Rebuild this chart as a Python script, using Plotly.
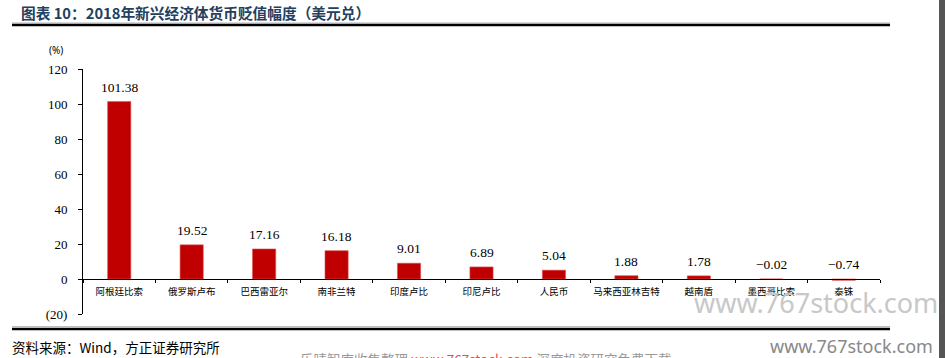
import plotly.graph_objects as go

categories = ["阿根廷比索", "俄罗斯卢布", "巴西雷亚尔", "南非兰特", "印度卢比", "印尼卢比",
              "人民币", "马来西亚林吉特", "越南盾", "墨西哥比索", "泰铢"]
values = [101.38, 19.52, 17.16, 16.18, 9.01, 6.89, 5.04, 1.88, 1.78, -0.02, -0.74]
value_labels = ["101.38", "19.52", "17.16", "16.18", "9.01", "6.89", "5.04", "1.88", "1.78", "−0.02", "−0.74"]
y_tickvals = [-20, 0, 20, 40, 60, 80, 100, 120]
y_ticktext = ["(20)", "0", "20", "40", "60", "80", "100", "120"]

W, H = 945, 358
# plot area in screen pixels
L, R, T, B = 83, 880, 68.7, 314.4

def px(x):
    return (x - L) / (R - L)

def py(y):
    return (B - y) / (B - T)

fig = go.Figure()
fig.add_trace(go.Bar(
    x=categories, y=values, width=0.32,
    marker=dict(color="#C00000", line=dict(color="#D9534F", width=0.6)),
    hoverinfo="skip", showlegend=False,
))

annotations = []
for c, v, t in zip(categories, values, value_labels):
    annotations.append(dict(
        x=c, y=max(v, 0), xref="x", yref="y", text=t, showarrow=False,
        xanchor="center", yanchor="bottom", yshift=5,
        font=dict(family="Liberation Serif", size=13.5, color="#000000"),
    ))

annotations += [
    dict(text="<b>图表 10：2018年新兴经济体货币贬值幅度（美元兑）</b>", xref="paper", yref="paper",
         x=px(19), y=py(12), xanchor="left", yanchor="middle", showarrow=False,
         font=dict(family="Noto Sans CJK SC", size=14.7, color="#24405F")),
    dict(text="(%)", xref="paper", yref="paper", x=px(56), y=py(50), xanchor="center", yanchor="middle",
         showarrow=False, font=dict(family="Noto Sans", size=10, color="#000000")),
    dict(text="资料来源：Wind，方正证券研究所", xref="paper", yref="paper",
         x=px(10), y=py(347), xanchor="left", yanchor="middle", showarrow=False,
         font=dict(family="Noto Sans CJK SC", size=13.5, color="#000000")),
    dict(text="www.767stock.com", xref="paper", yref="paper",
         x=px(935), y=py(346), xanchor="right", yanchor="middle", showarrow=False,
         font=dict(family="Noto Sans", size=18, color="#888888")),
    dict(text="www.767stock.com", xref="paper", yref="paper",
         x=px(940), y=py(303), xanchor="right", yanchor="middle", showarrow=False,
         font=dict(family="Noto Sans", size=27, color="#C8C8C8")),
    dict(text="乐晴智库收集整理 <span style='color:#E05050'>www.767stock.com</span> 深度投资研究免费下载",
         xref="paper", yref="paper",
         x=px(486), y=py(360), xanchor="center", yanchor="middle", showarrow=False,
         font=dict(family="Noto Sans CJK SC", size=13.5, color="#999999")),
]

fig.update_layout(
    width=W, height=H,
    margin=dict(l=L, r=W - R, t=T, b=H - B, autoexpand=False),
    paper_bgcolor="white", plot_bgcolor="white",
    xaxis=dict(
        anchor="free", position=20 / 140, automargin=False, tickangle=0,
        showline=True, linecolor="#000000", linewidth=1,
        ticks="outside", tickson="boundaries", ticklen=3, tickcolor="#000000",
        ticklabelstandoff=4,
        tickfont=dict(family="Noto Sans CJK SC", size=9.5, color="#000000"),
        showgrid=False, zeroline=False, fixedrange=True,
    ),
    yaxis=dict(
        range=[-20, 120], tickvals=y_tickvals, ticktext=y_ticktext, automargin=False,
        showline=True, linecolor="#000000", linewidth=1,
        ticks="outside", ticklen=4, tickcolor="#000000", ticklabelstandoff=8,
        tickfont=dict(family="Liberation Serif", size=13, color="#000000"),
        showgrid=False, zeroline=False, fixedrange=True,
    ),
    shapes=[
        dict(type="line", xref="paper", yref="paper", x0=px(12), x1=px(890), y0=py(22.5), y1=py(22.5),
             line=dict(color="#BBBBBB", width=1)),
        dict(type="line", xref="paper", yref="paper", x0=px(12), x1=px(890), y0=py(24.5), y1=py(24.5),
             line=dict(color="#000000", width=2.5)),
        dict(type="line", xref="paper", yref="paper", x0=px(12), x1=px(890), y0=py(327), y1=py(327),
             line=dict(color="#BBBBBB", width=1)),
        dict(type="line", xref="paper", yref="paper", x0=px(12), x1=px(890), y0=py(329.5), y1=py(329.5),
             line=dict(color="#000000", width=2.5)),
        dict(type="rect", xref="paper", yref="paper", x0=px(939), x1=px(946), y0=py(-2), y1=py(360),
             line=dict(width=0), fillcolor="#555555"),
    ],
    annotations=annotations,
)

fig.write_html("out.html", config={"displayModeBar": False},
               post_script="document.body.style.margin='0';document.body.style.overflow='hidden';")
